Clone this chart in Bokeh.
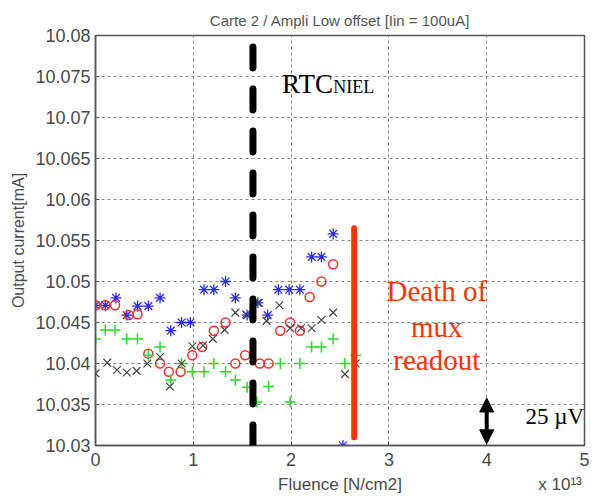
from bokeh.plotting import figure
from bokeh.models import (Range1d, Label, Arrow, NormalHead, FixedTicker, NumeralTickFormatter,
                          LinearAxis)
from bokeh.embed import file_html
from bokeh.resources import INLINE

# ---- data ----
blue_x = [0.0, 0.10, 0.21, 0.32, 0.43, 0.54, 0.66, 0.77, 0.88, 0.97, 1.11, 1.21, 1.33, 1.43,
          1.55, 1.66, 1.76, 1.87, 1.98, 2.09, 2.21, 2.31, 2.43, 2.53]
blue_y = [10.0471, 10.0471, 10.0480, 10.0459, 10.0470, 10.0470, 10.0480, 10.0440, 10.0450, 10.0450,
          10.0490, 10.0490, 10.0500, 10.0480, 10.0459, 10.0474, 10.0459, 10.0490, 10.0490, 10.0490,
          10.0530, 10.0530, 10.0558, 10.0300]

red_x = [0.0, 0.10, 0.20, 0.34, 0.43, 0.54, 0.66, 0.75, 0.87, 0.99, 1.09, 1.21, 1.33, 1.43,
         1.53, 1.68, 1.77, 1.89, 1.99, 2.09, 2.19, 2.31, 2.43]
red_y = [10.0471, 10.0471, 10.0471, 10.0459, 10.0460, 10.0412, 10.0400, 10.0390, 10.0390, 10.0410,
         10.0420, 10.0440, 10.0450, 10.0400, 10.0410, 10.0400, 10.0400, 10.0440, 10.0450, 10.0440,
         10.0481, 10.0500, 10.0521]

green_x = [0.0, 0.10, 0.20, 0.32, 0.43, 0.54, 0.66, 0.77, 0.88, 0.99, 1.11, 1.21, 1.33, 1.43,
           1.55, 1.65, 1.77, 1.89, 1.99, 2.09, 2.21, 2.31, 2.43, 2.55, 2.66]
green_y = [10.0430, 10.0441, 10.0441, 10.0430, 10.0430, 10.0410, 10.0420, 10.0380, 10.0400, 10.0390,
           10.0390, 10.0400, 10.0390, 10.0380, 10.0371, 10.0353, 10.0372, 10.0400, 10.0353, 10.0400,
           10.0420, 10.0420, 10.0430, 10.0400, 10.0410]

black_x = [0.0, 0.12, 0.22, 0.32, 0.42, 0.53, 0.66, 0.76, 0.88, 0.99, 1.10, 1.20, 1.32, 1.43,
           1.54, 1.67, 1.75, 1.88, 1.99, 2.10, 2.21, 2.31, 2.43, 2.55, 2.66]
black_y = [10.0388, 10.0401, 10.0392, 10.0389, 10.0391, 10.0400, 10.0408, 10.0372, 10.0400, 10.0421,
           10.0422, 10.0430, 10.0441, 10.0462, 10.0460, 10.0474, 10.0452, 10.0471, 10.0443, 10.0443,
           10.0443, 10.0453, 10.0462, 10.0387, 10.0400]

x_ticks = [0, 1, 2, 3, 4, 5]
y_ticks = [10.03, 10.035, 10.04, 10.045, 10.05, 10.055, 10.06, 10.065, 10.07, 10.075, 10.08]

rtc_x = 1.61
rtc_y = [10.0786, 10.0285]
death_x = 2.645
death_y = [10.0565, 10.0310]
span_x = 4.0
span_y = [10.0358, 10.0302]

title_text = "Carte 2 / Ampli Low offset [Iin = 100uA]"
x_label = "Fluence [N/cm2]"
x_scale_label = "x 10\u00b9\u00b3"
y_label = "Output current[mA]"

FONT = "Liberation Sans"
SERIF = "Liberation Serif"
GREY = "#4a4a4a"

p = figure(width=596, height=502, output_backend="svg", toolbar_location=None,
           x_range=Range1d(0, 5), y_range=Range1d(10.03, 10.08),
           min_border_left=95, min_border_right=12, min_border_top=35, min_border_bottom=57)
p.background_fill_color = "white"
p.border_fill_color = "white"
p.outline_line_color = "#555555"
p.outline_line_width = 1.5

p.title.text = title_text
p.title.align = "center"
p.title.text_font = FONT
p.title.text_font_size = "15px"
p.title.text_font_style = "normal"
p.title.text_color = "#555555"
p.title.standoff = 14

p.xaxis.ticker = FixedTicker(ticks=x_ticks)
p.yaxis.ticker = FixedTicker(ticks=y_ticks)
p.yaxis.formatter = NumeralTickFormatter(format="0.[000]")
for ax in (p.xaxis, p.yaxis):
    ax.axis_line_color = "#555555"
    ax.axis_line_width = 1.5
    ax.major_tick_in = 4
    ax.major_tick_out = 0
    ax.major_tick_line_color = "#555555"
    ax.minor_tick_line_color = None
    ax.major_label_text_font = FONT
    ax.major_label_text_font_size = "18px"
    ax.major_label_text_color = GREY
p.xaxis.major_label_standoff = 7
p.yaxis.major_label_standoff = 5

p.yaxis.axis_label = y_label
p.yaxis.axis_label_text_font = FONT
p.yaxis.axis_label_text_font_size = "16px"
p.yaxis.axis_label_text_font_style = "normal"
p.yaxis.axis_label_text_color = GREY
p.yaxis.axis_label_standoff = 5

# second bottom axis carrying the x label and the scale factor as tick labels
lab_axis = LinearAxis(ticker=FixedTicker(ticks=[2.5, 4.75]),
                      major_label_overrides={2.5: x_label, 4.75: x_scale_label})
lab_axis.axis_line_color = None
lab_axis.major_tick_line_color = None
lab_axis.minor_tick_line_color = None
lab_axis.major_label_standoff = 0
lab_axis.major_label_text_font = FONT
lab_axis.major_label_text_font_size = "17px"
lab_axis.major_label_text_color = GREY
p.add_layout(lab_axis, "below")

p.grid.grid_line_color = "#888888"
p.grid.grid_line_dash = "3 3"
p.grid.grid_line_width = 1

# data series
p.scatter(blue_x, blue_y, marker="asterisk", size=11, line_color="#2a2aff", line_width=1.3)
p.scatter(red_x, red_y, marker="circle", size=9, fill_color=None, line_color="#ff2a2a", line_width=1.5)
p.scatter(green_x, green_y, marker="cross", size=11, line_color="#22dd22", line_width=1.5)
p.scatter(black_x, black_y, marker="x", size=11, line_color="#444444", line_width=1.2)

# RTC dashed line
p.add_layout(Arrow(start=None, end=None, x_start=rtc_x, y_start=rtc_y[0], x_end=rtc_x, y_end=rtc_y[1],
                   line_color="black", line_width=7, line_dash="21 21", line_cap="round"))
# death line
p.line([death_x, death_x], death_y, line_color="#ff3300", line_width=6, line_cap="round")
# 25 uV double arrow
p.add_layout(Arrow(start=NormalHead(size=14, fill_color="black", line_color="black"),
                   end=NormalHead(size=14, fill_color="black", line_color="black"),
                   x_start=span_x, y_start=span_y[0], x_end=span_x, y_end=span_y[1],
                   line_color="black", line_width=4))

def lab(x, y, text, size, color="black", font=SERIF, align="left", baseline="alphabetic"):
    p.add_layout(Label(x=x, y=y, text=text, text_font=font, text_font_size=size,
                       text_color=color, text_align=align, text_baseline=baseline))

lab(1.908, 10.0741, "RTC", "27px")
lab(2.43, 10.07366, "NIEL", "18px")
lab(3.49, 10.0489, "Death of", "29px", color="#ff3300", align="center", baseline="middle")
lab(3.49, 10.0444, "mux", "29px", color="#ff3300", align="center", baseline="middle")
lab(3.49, 10.0404, "readout", "29px", color="#ff3300", align="center", baseline="middle")
lab(4.995, 10.0335, "25 \u00b5V", "23px", align="right", baseline="middle")

open("out.html", "w").write(file_html(p, INLINE))
